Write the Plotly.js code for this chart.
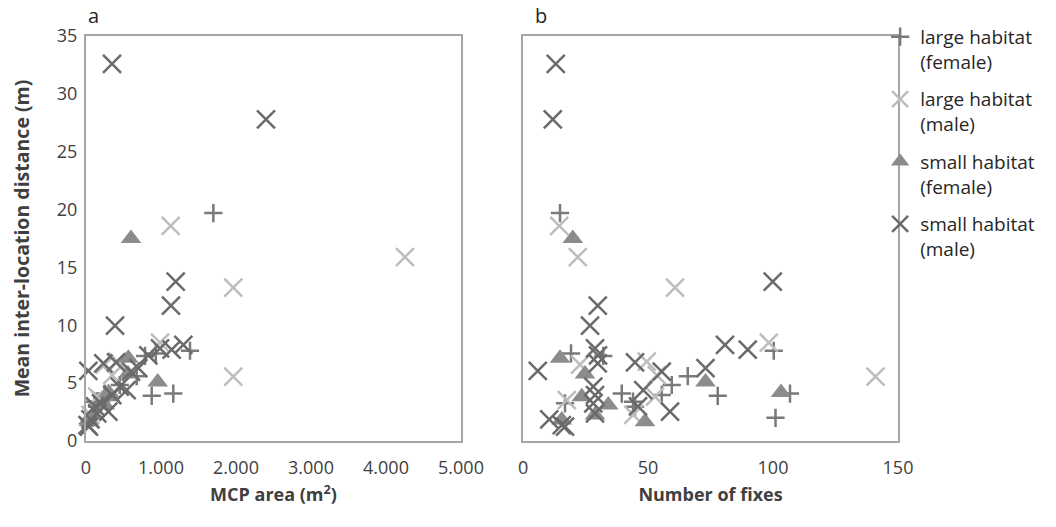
<!DOCTYPE html>
<html><head><meta charset="utf-8">
<script src="https://cdn.plot.ly/plotly-3.0.1.min.js"></script>
<style>html,body{margin:0;padding:0;background:#fff}</style>
</head><body><div id="chart" style="width:1056px;height:527px"></div>
<script>
// ---- data ----
const seriesNames = ["large habitat<br>(female)", "large habitat<br>(male)", "small habitat<br>(female)", "small habitat<br>(male)"];

// large habitat (female)
const lfMcp   = [1698, 1387, 787, 930, 1164, 876, 676, 450, 300, 250, 90, 150, 200, 110];
const lfFixes = [14.8, 100.3, 32.1, 19.2, 106.8, 77.9, 65.9, 59.5, 55.5, 39.5, 101, 44.8, 16.8, 44];
const lfDist  = [19.7, 7.8, 7.35, 7.57, 4.1, 3.9, 5.6, 4.84, 3.98, 4.1, 2.0, 2.97, 3.26, 3.4];

// large habitat (male)
const lmMcp   = [1129, 4253, 1964, 1964, 987, 250, 420, 350, 150, 60, 200];
const lmFixes = [14.5, 21.9, 60.8, 141, 98.3, 22.8, 49.5, 53.5, 52.8, 44.1, 17.5];
const lmDist  = [18.6, 15.9, 13.25, 5.56, 8.5, 6.6, 6.85, 5.7, 3.83, 2.25, 3.54];

// small habitat (female)
const sfMcp   = [600, 956, 564, 560, 320, 250, 100, 40, 30, 300];
const sfFixes = [19.9, 73, 14.8, 24.8, 23.5, 34.1, 28.8, 48.8, 15.5, 103.2];
const sfDist  = [17.5, 5.1, 7.15, 5.8, 3.83, 3.11, 2.25, 1.67, 1.81, 4.2];

// small habitat (male)
const smMcp   = [347, 2400, 1196, 1133, 387, 1298, 1142, 987, 698, 31, 231, 400, 600, 542, 298, 450, 350, 200, 150, 60, 20, 40, 831, 120];
const smFixes = [13.1, 11.9, 99.9, 29.9, 26.8, 80.8, 89.9, 28.8, 73, 5.9, 29.9, 44.8, 55.5, 48.1, 58.8, 28.1, 28.8, 28.1, 28.8, 10.5, 15.5, 16.8, 30, 46];
const smDist  = [32.6, 27.8, 13.77, 11.7, 9.97, 8.3, 7.9, 8.0, 6.3, 6.05, 6.7, 6.8, 6.0, 4.4, 2.54, 4.7, 3.97, 3.26, 2.39, 1.87, 1.38, 1.24, 7.4, 3.0];

const mcpTickVals = [0, 1000, 2000, 3000, 4000, 5000];
const mcpTickText = ["0", "1.000", "2.000", "3.000", "4.000", "5.000"];
const fixTickVals = [0, 50, 100, 150];
const distTickVals = [0, 5, 10, 15, 20, 25, 30, 35];

// ---- styles ----
const FONT = "'Open Sans', Lato, sans-serif";
const styles = [
  {symbol: "cross-thin", size: 13, line: {color: "#7a7a7a", width: 2.5}, color: "#7a7a7a"},
  {symbol: "x-thin", size: 18, line: {color: "#bdbdbd", width: 2.5}, color: "#bdbdbd"},
  {symbol: "triangle-up", size: 18, line: {color: "#8c8c8c", width: 0}, color: "#8c8c8c"},
  {symbol: "x-thin", size: 18, line: {color: "#6a6a6a", width: 2.5}, color: "#6a6a6a"}
];
const seriesData = [
  [lfMcp, lfFixes, lfDist],
  [lmMcp, lmFixes, lmDist],
  [sfMcp, sfFixes, sfDist],
  [smMcp, smFixes, smDist]
];

const traces = [];
seriesData.forEach((s, i) => {
  traces.push({
    type: "scatter", mode: "markers", x: s[0], y: s[2], xaxis: "x", yaxis: "y",
    name: seriesNames[i], legendgroup: "g" + i, showlegend: true,
    marker: styles[i], cliponaxis: false
  });
  traces.push({
    type: "scatter", mode: "markers", x: s[1], y: s[2], xaxis: "x2", yaxis: "y2",
    name: seriesNames[i], legendgroup: "g" + i, showlegend: false,
    marker: styles[i], cliponaxis: false
  });
});

const axisBase = {
  showgrid: false, zeroline: false, showline: true, mirror: true,
  linecolor: "#a6a6a6", linewidth: 2, ticks: "",
  tickfont: {family: FONT, size: 18, color: "#404040"}
};
const titleFont = {family: FONT, size: 18, color: "#404040"};

const layout = {
  width: 1056, height: 527,
  margin: {l: 86, r: 158, t: 36, b: 86},
  paper_bgcolor: "#fff", plot_bgcolor: "#fff",
  font: {family: FONT, color: "#404040"},
  showlegend: true,
  legend: {
    x: 0.978, xanchor: "left", y: 1.045, yanchor: "top",
    font: {family: FONT, size: 19, color: "#262626"},
    tracegroupgap: 10, valign: "top", itemwidth: 30,
    bgcolor: "rgba(0,0,0,0)"
  },
  xaxis: Object.assign({}, axisBase, {
    domain: [0, 0.4618], range: [0, 5000], anchor: "y",
    tickvals: mcpTickVals, ticktext: mcpTickText, ticklabelstandoff: 9,
    title: {text: "<b>MCP area (m<sup>2</sup>)</b>", font: titleFont, standoff: 11}
  }),
  yaxis: Object.assign({}, axisBase, {
    domain: [0, 1], range: [0, 35], anchor: "x",
    tickvals: distTickVals, ticklabelstandoff: 3,
    title: {text: "<b>Mean inter-location distance (m)</b>", font: {family: FONT, size: 19.5, color: "#404040"}, standoff: 22}
  }),
  xaxis2: Object.assign({}, axisBase, {
    domain: [0.5382, 1], range: [0, 150], anchor: "y2",
    tickvals: fixTickVals, ticklabelstandoff: 9,
    title: {text: "<b>Number of fixes</b>", font: titleFont, standoff: 11}
  }),
  yaxis2: Object.assign({}, axisBase, {
    domain: [0, 1], range: [0, 35], anchor: "x2", showticklabels: false
  }),
  annotations: [
    {text: "a", xref: "x domain", yref: "y domain", x: 0.0, y: 1.0, xanchor: "left", yanchor: "bottom", yshift: 5, showarrow: false, font: {family: FONT, size: 20, color: "#262626"}},
    {text: "b", xref: "x2 domain", yref: "y2 domain", x: 0.026, y: 1.0, xanchor: "left", yanchor: "bottom", yshift: 5, showarrow: false, font: {family: FONT, size: 20, color: "#262626"}}
  ]
};

Plotly.newPlot("chart", traces, layout, {displayModeBar: false, staticPlot: true});
</script>
</body></html>
